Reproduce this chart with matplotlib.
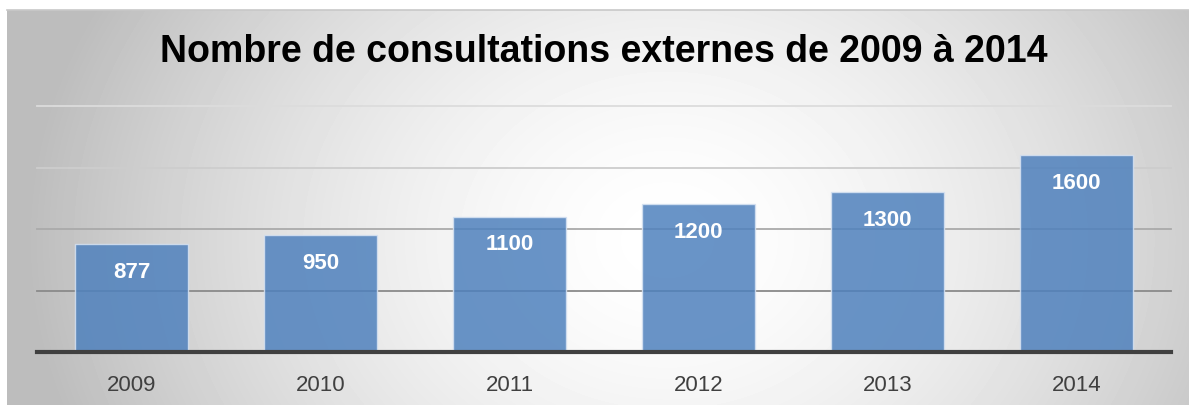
import matplotlib.pyplot as plt
import numpy as np

# Consultations externes par année
years = ['2009', '2010', '2011', '2012', '2013', '2014']
consultations = [877, 950, 1100, 1200, 1300, 1600]

plt.rcParams['font.family'] = ['Liberation Sans', 'DejaVu Sans']

fig = plt.figure(figsize=(11.89, 4.06), dpi=100, facecolor='white')

# Fond en dégradé radial (clair au centre, gris sur les bords)
bg = fig.add_axes([7 / 1189, 0, 1182 / 1189, 395 / 406])
bg.set_axis_off()
yy, xx = np.mgrid[0:395, 0:1182]
r = np.sqrt(((xx - 660) / 640.0) ** 2 + ((yy - 230) / 520.0) ** 2)
shade = 1.0 - 0.26 * np.clip(r, 0, 1) ** 1.6
bg.imshow(shade, cmap='gray', vmin=0, vmax=1, aspect='auto', interpolation='bilinear')
fig.add_artist(plt.Line2D([7 / 1189, 1], [1 - 11 / 406, 1 - 11 / 406],
                          color='#c8c8c8', lw=1.2, transform=fig.transFigure))

ax = fig.add_axes([37 / 1189, 1 - 353 / 406, 1134 / 1189, 246 / 406])
ax.patch.set_alpha(0)
x = np.arange(len(years))
ax.set_xlim(-0.5, len(years) - 0.5)
ax.set_ylim(0, 2000)

# Lignes de quadrillage
grid_levels = [500, 1000, 1500, 2000]
grid_colors = ['#8a8a8a', '#aaaaaa', '#cdcdcd', '#dcdcdc']
for lvl, col in zip(grid_levels, grid_colors):
    ax.axhline(lvl, color=col, lw=1.3, zorder=0, clip_on=False)

bars = ax.bar(x, consultations, width=0.6, color='#4f81bd', alpha=0.85,
              edgecolor='#d6e2f2', linewidth=1.0, zorder=2)

for xi, v in zip(x, consultations):
    ax.annotate(str(v), (xi, v), xytext=(0, -19.5), textcoords='offset points',
                ha='center', va='center', color='white', fontsize=16,
                fontweight='bold', zorder=3)

ax.axhline(0, color='#404040', lw=3, zorder=4, clip_on=False)

ax.set_xticks(x)
ax.set_xticklabels(years, fontsize=16, color='#404040')
ax.tick_params(axis='x', length=0, pad=16)
ax.set_yticks([])
for s in ax.spines.values():
    s.set_visible(False)

fig.text(0.508, 1 - 52 / 406, 'Nombre de consultations externes de 2009 à 2014',
         ha='center', va='center', fontsize=27, fontweight='bold', color='black')

fig.savefig('out.png', dpi=100, facecolor='white')
